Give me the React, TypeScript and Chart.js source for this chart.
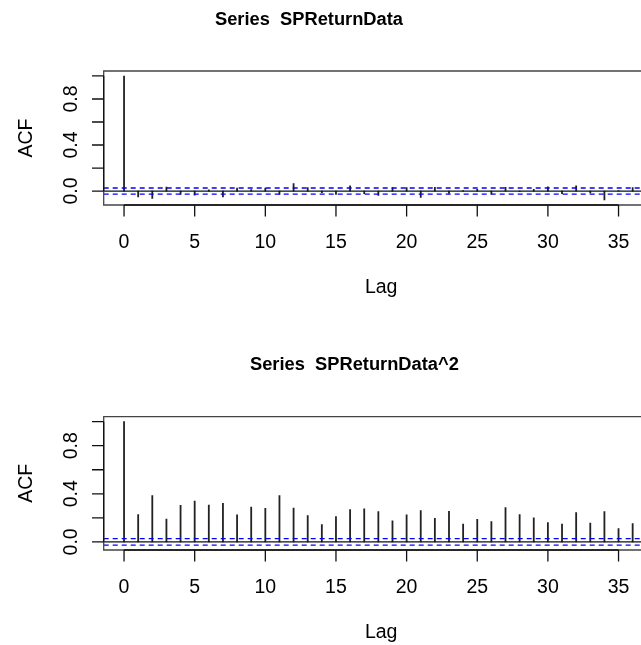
import React, { useEffect, useRef } from "react";
import { Chart, registerables } from "chart.js";

Chart.register(...registerables);

// ---- data ----
const lags = [0, 1, 2, 3, 4, 5, 6, 7, 8, 9, 10, 11, 12, 13, 14, 15, 16, 17, 18, 19, 20, 21, 22, 23, 24, 25, 26, 27, 28, 29, 30, 31, 32, 33, 34, 35, 36];
const acfReturn = [1.0, -0.052, -0.063, 0.035, -0.03, -0.035, 0.01, -0.05, 0.026, 0.012, 0.026, -0.03, 0.066, 0.03, -0.015, -0.03, 0.046, -0.022, -0.038, 0.03, 0.03, -0.055, 0.032, -0.02, 0.005, 0.015, -0.026, 0.032, -0.005, 0.015, 0.036, -0.022, 0.045, -0.016, -0.078, 0.005, 0.03];
const acfSquared = [1.0, 0.227, 0.384, 0.19, 0.304, 0.34, 0.307, 0.32, 0.224, 0.29, 0.279, 0.384, 0.282, 0.218, 0.144, 0.21, 0.268, 0.275, 0.251, 0.174, 0.224, 0.26, 0.196, 0.254, 0.149, 0.188, 0.169, 0.285, 0.227, 0.199, 0.16, 0.149, 0.243, 0.157, 0.251, 0.11, 0.152];
const clim = 0.0265;
const xTicks = [0, 5, 10, 15, 20, 25, 30, 35];
const yTicks = [0, 0.2, 0.4, 0.6, 0.8, 1.0];
const yTickLabels = ["0.0", "", "0.4", "", "0.8", ""];
const titles = ["Series  SPReturnData", "Series  SPReturnData^2"];
const xLabel = "Lag";
const yLabel = "ACF";

const X_MIN = -1.44;
const X_MAX = 36.59;
const FONT = '"Liberation Sans", Arial, Helvetica, sans-serif';

type PanelCfg = {
  values: number[];
  title: string;
  titleLeft: number;
  yMin: number;
  yMax: number;
  padTop: number;
  padBottom: number;
};

const panels: PanelCfg[] = [
  { values: acfReturn, title: titles[0], titleLeft: 215, yMin: -0.1212, yMax: 1.0431, padTop: 71, padBottom: 440 },
  { values: acfSquared, title: titles[1], titleLeft: 250, yMin: -0.0676, yMax: 1.0411, padTop: 416.7, padBottom: 95 },
];

function makeDecor(cfg: PanelCfg) {
  return {
    id: "rDecor",
    afterDraw(chart: any) {
      const ctx = chart.ctx as CanvasRenderingContext2D;
      const { left, right, top, bottom } = chart.chartArea;
      const xs = chart.scales.x;
      const ys = chart.scales.y;
      ctx.save();
      // box (left, top, bottom; right side is off canvas)
      ctx.strokeStyle = "#444";
      ctx.lineWidth = 1.3;
      ctx.beginPath();
      ctx.moveTo(right + 5, top);
      ctx.lineTo(left, top);
      ctx.lineTo(left, bottom);
      ctx.lineTo(right + 5, bottom);
      ctx.stroke();

      // x axis
      ctx.strokeStyle = "#111";
      ctx.beginPath();
      const x0 = xs.getPixelForValue(xTicks[0]);
      const x1 = xs.getPixelForValue(xTicks[xTicks.length - 1]);
      ctx.moveTo(x0, bottom);
      ctx.lineTo(x1, bottom);
      xTicks.forEach((t) => {
        const px = xs.getPixelForValue(t);
        ctx.moveTo(px, bottom);
        ctx.lineTo(px, bottom + 11.5);
      });
      // y axis
      const y0 = ys.getPixelForValue(yTicks[0]);
      const y1 = ys.getPixelForValue(yTicks[yTicks.length - 1]);
      ctx.moveTo(left, y0);
      ctx.lineTo(left, y1);
      yTicks.forEach((t) => {
        const py = ys.getPixelForValue(t);
        ctx.moveTo(left, py);
        ctx.lineTo(left - 11.7, py);
      });
      ctx.stroke();

      ctx.fillStyle = "#000";
      ctx.font = `19.5px ${FONT}`;
      ctx.textAlign = "center";
      ctx.textBaseline = "alphabetic";
      xTicks.forEach((t) => {
        ctx.fillText(String(t), xs.getPixelForValue(t), bottom + 42.7);
      });
      ctx.fillText(xLabel, xs.getPixelForValue(18.2), bottom + 88.3);

      yTicks.forEach((t, i) => {
        const lab = yTickLabels[i];
        if (!lab) return;
        ctx.save();
        ctx.translate(left - 27, ys.getPixelForValue(t));
        ctx.rotate(-Math.PI / 2);
        ctx.fillText(lab, 0, 0);
        ctx.restore();
      });
      ctx.save();
      ctx.translate(left - 72, (top + bottom) / 2);
      ctx.rotate(-Math.PI / 2);
      ctx.fillText(yLabel, 0, 0);
      ctx.restore();

      ctx.font = `bold 18.3px ${FONT}`;
      ctx.textAlign = "left";
      ctx.fillText(cfg.title, cfg.titleLeft, top - 46.5);
      ctx.restore();
    },
  };
}

function Panel({ cfg }: { cfg: PanelCfg }) {
  const ref = useRef<HTMLCanvasElement | null>(null);
  useEffect(() => {
    if (!ref.current) return;
    const chart = new Chart(ref.current, {
      type: "bar",
      data: {
        datasets: [
          {
            type: "line",
            data: [{ x: X_MIN, y: clim }, { x: X_MAX, y: clim }],
            borderColor: "#0000ff",
            borderDash: [5, 4],
            borderWidth: 1.3,
            pointRadius: 0,
            order: 0,
          } as any,
          {
            type: "line",
            data: [{ x: X_MIN, y: -clim }, { x: X_MAX, y: -clim }],
            borderColor: "#0000ff",
            borderDash: [5, 4],
            borderWidth: 1.3,
            pointRadius: 0,
            order: 0,
          } as any,
          {
            type: "line",
            data: [{ x: X_MIN, y: 0 }, { x: X_MAX, y: 0 }],
            borderColor: "#111",
            borderWidth: 1.3,
            pointRadius: 0,
            order: 1,
          } as any,
          {
            type: "bar",
            data: lags.map((l, i) => ({ x: l, y: cfg.values[i] })),
            backgroundColor: "#222",
            borderWidth: 0,
            barThickness: 1.15,
            order: 2,
          } as any,
        ],
      },
      options: {
        responsive: false,
        animation: false,
        devicePixelRatio: 1,
        layout: { padding: { left: 103.7, right: 0, top: cfg.padTop, bottom: cfg.padBottom } },
        scales: {
          x: { type: "linear", min: X_MIN, max: X_MAX, offset: false, display: false },
          y: { type: "linear", min: cfg.yMin, max: cfg.yMax, display: false },
        },
        plugins: { legend: { display: false }, tooltip: { enabled: false } },
        events: [],
      } as any,
      plugins: [makeDecor(cfg)],
    });
    return () => chart.destroy();
  }, [cfg]);
  return (
    <canvas
      ref={ref}
      width={641}
      height={645}
      style={{ position: "absolute", left: 0, top: 0, width: 641, height: 645 }}
    />
  );
}

export default function App() {
  return (
    <div style={{ position: "absolute", left: 0, top: 0, width: 641, height: 645, background: "#fff", overflow: "hidden" }}>
      {panels.map((p, i) => (
        <Panel key={i} cfg={p} />
      ))}
    </div>
  );
}
